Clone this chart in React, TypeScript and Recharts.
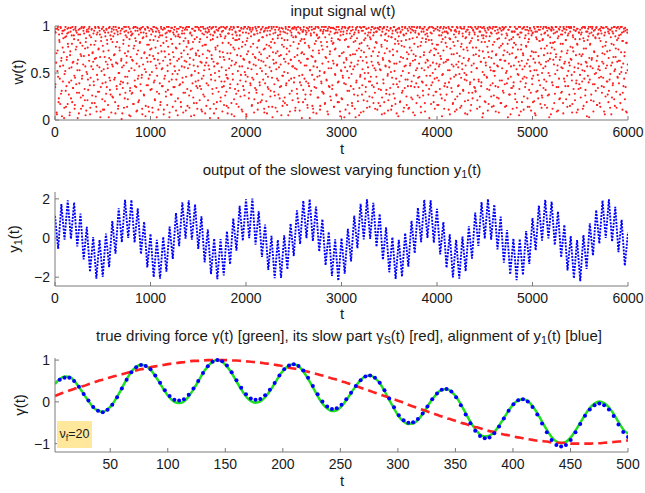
import React from 'react';
import { ScatterChart, Scatter, LineChart, Line, ComposedChart, XAxis, YAxis } from 'recharts';

const FONT = '"Liberation Sans", Arial, Helvetica, sans-serif';
const AXIS = '#7a7a7a';
const INK = '#1a1a1a';

// panel 1: input signal w(t); two interleaved sample runs (even / odd slots)
const wTicksX = [0, 1000, 2000, 3000, 4000, 5000, 6000];
const wTicksY = [0, 0.5, 1];
const wEven = [
  .94,.38,.97,.71,.06,.52,.99,.96,.23,.85,.44,.17,.98,.63,.31,.92,.77,.58,.95,.02,
  .49,.88,.99,.14,.36,.67,.97,.81,.93,.27,.55,.08,.73,.98,.42,.90,.19,.61,.34,.96,
  .86,.12,.45,.99,.95,.78,.29,.53,.64,.91,.07,.39,.97,.82,.24,.68,.99,.47,.15,.59,
  .98,.92,.33,.76,.05,.87,.51,.96,.21,.43,.94,.69,.99,.37,.13,.80,.57,.97,.26,.72,
  .62,.41,.95,.18,.99,.84,.66,.09,.48,.93,.30,.75,.98,.56,.91,.03,.35,.88,.97,.22,
  .79,.99,.54,.11,.67,.93,.40,.28,.96,.85,.59,.16,.74,.98,.45,.32,.90,.64,.08,.97,
  .25,.57,.89,.96,.43,.70,.19,.99,.61,.36,.83,.94,.12,.50,.98,.77,.27,.92,.41,.65,
  .97,.07,.34,.81,.58,.99,.23,.46,.90,.95,.68,.14,.39,.73,.99,.52,.86,.31,.04,.94,
  .55,.91,.29,.63,.98,.17,.79,.42,.87,.99,.35,.60,.10,.95,.74,.47,.21,.97,.83,.38,
  .93,.66,.48,.06,.99,.88,.27,.71,.54,.96,.15,.92,.37,.80,.62,.98,.44,.09,.69,.85,
  .32,.97,.76,.51,.13,.94,.99,.40,.65,.22,.89,.58,.98,.03,.47,.84,.71,.95,.28,.60,
  .90,.19,.99,.73,.36,.55,.96,.82,.11,.44,.97,.67,.30,.88,.93,.16,.52,.78,.99,.41,
  .08,.64,.95,.86,.27,.98,.49,.72,.35,.91,.57,.99,.20,.77,.43,.94,.63,.05,.89,.97,
  .53,.81,.38,.99,.14,.67,.92,.45,.98,.29,.74,.56,.96,.87,.10,.62,.99,.33,.70,.84,
  .99,.26,.59,.92,.75,.04,.48,.97,.39,.83,.64,.18,.95,.52,.99,.71,.36,.88,.12,.57,
  .42,.98,.68,.21,.86,.95,.33,.61,.09,.79,.99,.47,.91,.25,.58,.97,.80,.15,.66,.93,
  .74,.37,.96,.54,.99,.12,.85,.43,.69,.98,.28,.90,.62,.07,.94,.50,.77,.99,.34,.19,
  .88,.60,.02,.97,.46,.73,.91,.24,.99,.56,.35,.82,.95,.67,.16,.41,.98,.89,.53,.30,
  .99,.71,.44,.13,.92,.65,.97,.38,.80,.58,.06,.96,.49,.87,.99,.22,.75,.33,.94,.61,
  .17,.85,.99,.52,.31,.76,.95,.90,.42,.68,.98,.11,.57,.83,.36,.97,.64,.26,.99,.48,
  .93,.04,.70,.87,.55,.99,.23,.62,.96,.39,.78,.94,.15,.45,.98,.81,.59,.08,.91,.34,
  .66,.97,.29,.49,.92,.18,.84,.99,.72,.37,.55,.96,.63,.21,.88,.99,.43,.75,.12,.95,
  .39,.58,.98,.80,.07,.95,.46,.33,.99,.68,.91,.25,.77,.52,.97,.14,.86,.64,.99,.30,
  .82,.96,.13,.61,.99,.44,.73,.90,.27,.56,.98,.35,.94,.69,.05,.87,.47,.97,.20,.78,
  .51,.24,.93,.99,.37,.70,.16,.85,.96,.60,.42,.99,.09,.79,.64,.93,.31,.57,.98,.88,
  .97,.45,.67,.10,.89,.98,.54,.28,.76,.99,.19,.63,.92,.40,.84,.96,.71,.02,.48,.94,
  .32,.99,.86,.58,.22,.95,.41,.93,.65,.13,.97,.79,.36,.99,.53,.27,.90,.68,.96,.15,
  .74,.08,.97,.43,.81,.62,.99,.34,.91,.56,.24,.87,.98,.71,.47,.11,.95,.83,.39,.99,
  .60,.92,.29,.96,.50,.17,.88,.99,.66,.42,.78,.95,.06,.55,.99,.35,.73,.94,.21,.84,
  .98,.37,.63,.82,.14,.97,.75,.48,.93,.27,.99,.59,.19,.86,.41,.96,.68,.09,.90,.53,
  .23,.71,.99,.45,.94,.61,.03,.85,.98,.38,.66,.92,.52,.16,.97,.78,.31,.99,.57,.87,
  .95,.49,.18,.99,.70,.33,.91,.57,.12,.84,.96,.40,.74,.99,.26,.63,.93,.05,.81,.46,
  .67,.98,.82,.27,.54,.95,.09,.72,.99,.44,.87,.35,.97,.61,.20,.90,.50,.98,.76,.14,
  .41,.86,.96,.62,.37,.99,.73,.18,.93,.55,.29,.98,.83,.46,.94,.11,.68,.97,.33,.59,
  .99,.15,.53,.90,.78,.24,.97,.64,.39,.99,.07,.85,.58,.92,.32,.76,.99,.49,.21,.95,
  .56,.73,.34,.98,.11,.88,.45,.95,.69,.28,.99,.52,.81,.17,.96,.60,.38,.93,.84,.04,
  .89,.97,.62,.20,.94,.47,.79,.99,.31,.66,.91,.13,.57,.98,.43,.85,.25,.72,.97,.36,
  .12,.50,.99,.77,.60,.93,.24,.41,.96,.87,.08,.70,.99,.35,.64,.95,.53,.18,.88,.99,
  .78,.35,.91,.46,.98,.67,.14,.83,.55,.97,.40,.26,.94,.72,.99,.09,.61,.86,.47,.92,
  .96,.63,.27,.85,.02,.99,.58,.74,.37,.92,.81,.50,.98,.19,.69,.44,.97,.30,.75,.60,
  .45,.99,.80,.16,.57,.95,.33,.68,.99,.90,.23,.48,.86,.97,.61,.12,.94,.39,.82,.98,
  .27,.64,.93,.53,.99,.40,.87,.06,.76,.96,.34,.59,.99,.17,.83,.70,.46,.95,.22,.88,
  .94,.11,.71,.98,.36,.62,.92,.49,.28,.99,.78,.15,.97,.54,.89,.31,.66,.99,.43,.07,
  .58,.88,.42,.96,.74,.21,.99,.65,.93,.38,.10,.84,.51,.98,.29,.77,.95,.60,.35,.91,
  .99,.30,.77,.55,.12,.97,.85,.43,.68,.94,.25,.99,.62,.40,.90,.03,.73,.87,.99,.48,
  .20,.95,.61,.89,.46,.33,.98,.72,.17,.84,.99,.56,.37,.93,.66,.14,.97,.80,.52,.26,
  .83,.47,.99,.09,.70,.92,.58,.96,.35,.23,.87,.98,.64,.18,.79,.95,.42,.99,.31,.69,
  .97,.74,.38,.63,.99,.15,.52,.90,.81,.44,.96,.27,.70,.99,.06,.57,.86,.34,.94,.77,
  .36,.58,.94,.99,.22,.80,.67,.13,.97,.49,.91,.62,.05,.88,.99,.41,.75,.93,.19,.54,
  .71,.98,.25,.46,.87,.96,.39,.78,.60,.99,.14,.83,.95,.32,.57,.97,.68,.10,.90,.44,
  .92,.19,.65,.99,.53,.07,.94,.72,.30,.86,.99,.48,.23,.96,.61,.84,.37,.99,.76,.13,
  .50,.85,.97,.34,.69,.92,.16,.57,.99,.41,.79,.95,.26,.63,.98,.03,.47,.88,.71,.96,
  .99,.40,.12,.82,.96,.59,.75,.28,.93,.67,.99,.09,.53,.87,.35,.97,.22,.64,.99,.81,
  .29,.73,.91,.55,.18,.99,.44,.97,.62,.36,.85,.96,.71,.14,.90,.52,.99,.27,.58,.94,
  .65,.98,.48,.08,.77,.88,.33,.99,.56,.21,.95,.69,.42,.97,.80,.11,.60,.93,.38,.86,
  .96,.24,.59,.93,.41,.70,.99,.15,.84,.52,.98,.32,.76,.61,.04,.94,.47,.89,.99,.66,
  .43,.81,.99,.27,.64,.97,.55,.90,.20,.73,.38,.96,.87,.50,.99,.16,.68,.34,.92,.57,
  .87,.53,.14,.95,.99,.36,.62,.78,.45,.98,.09,.70,.93,.25,.83,.99,.58,.41,.97,.19,
  .31,.96,.74,.49,.88,.06,.98,.61,.37,.92,.80,.22,.99,.54,.67,.95,.13,.85,.46,.99,
  .75,.39,.97,.63,.18,.91,.51,.99,.84,.29,.60,.94,.44,.72,.98,.35,.09,.82,.96,.53,
];
const wOdd = [
  .35,.93,.61,.08,.97,.74,.46,.19,.91,.83,.57,.99,.28,.66,.04,.95,.41,.87,.72,.13,
  .96,.52,.31,.89,.64,.92,.17,.78,.98,.40,.05,.69,.94,.23,.56,.81,.99,.34,.62,.90,
  .47,.16,.97,.75,.38,.93,.60,.02,.85,.96,.29,.53,.91,.70,.12,.98,.44,.79,.26,.95,
  .68,.99,.21,.57,.83,.10,.94,.49,.77,.32,.97,.63,.90,.06,.45,.88,.96,.18,.71,.54,
  .92,.37,.80,.65,.98,.25,.14,.91,.58,.43,.99,.76,.30,.95,.67,.09,.84,.52,.97,.39,
  .11,.73,.95,.48,.20,.89,.62,.97,.35,.81,.55,.93,.03,.66,.99,.42,.27,.86,.94,.59,
  .83,.24,.99,.69,.92,.45,.07,.78,.96,.33,.60,.91,.15,.98,.50,.74,.38,.95,.63,.01,
  .56,.97,.40,.85,.13,.94,.71,.29,.99,.61,.88,.46,.22,.93,.79,.05,.97,.34,.67,.90,
  .28,.64,.92,.17,.76,.99,.53,.36,.95,.84,.09,.70,.98,.44,.19,.91,.57,.82,.96,.31,
  .98,.45,.12,.87,.59,.93,.26,.72,.97,.04,.51,.89,.66,.99,.37,.14,.80,.95,.48,.75,
  .62,.91,.33,.96,.08,.68,.85,.99,.42,.21,.77,.94,.55,.30,.97,.64,.11,.88,.93,.39,
  .16,.79,.97,.54,.90,.36,.63,.06,.98,.73,.47,.92,.25,.84,.99,.58,.32,.95,.70,.03,
  .94,.60,.27,.98,.43,.81,.14,.93,.67,.96,.35,.52,.89,.10,.76,.97,.49,.23,.91,.65,
  .37,.88,.99,.19,.71,.57,.95,.40,.08,.84,.92,.63,.29,.98,.46,.78,.96,.15,.55,.82,
  .99,.13,.66,.93,.31,.47,.90,.76,.97,.24,.58,.05,.86,.95,.41,.69,.18,.99,.34,.74,
  .50,.96,.83,.36,.62,.99,.11,.44,.92,.70,.27,.97,.53,.80,.07,.94,.61,.39,.88,.98,
  .21,.58,.94,.73,.02,.91,.48,.97,.65,.33,.86,.99,.17,.57,.93,.42,.75,.12,.96,.60,
  .79,.95,.30,.52,.98,.67,.20,.89,.41,.94,.09,.72,.99,.36,.64,.87,.26,.97,.48,.15,
  .45,.07,.92,.82,.55,.96,.34,.71,.99,.18,.63,.91,.43,.77,.98,.04,.59,.85,.93,.28,
  .90,.69,.38,.99,.14,.86,.57,.95,.25,.48,.97,.78,.09,.93,.65,.32,.99,.51,.80,.41,
  .06,.84,.97,.46,.73,.92,.29,.61,.98,.37,.89,.54,.16,.96,.70,.43,.91,.22,.67,.99,
  .58,.32,.95,.77,.11,.99,.64,.85,.40,.93,.19,.70,.97,.52,.27,.88,.62,.94,.08,.76,
  .97,.49,.20,.90,.66,.35,.98,.14,.79,.56,.95,.31,.83,.99,.45,.03,.72,.92,.60,.38,
  .26,.93,.71,.54,.99,.09,.87,.42,.96,.68,.23,.91,.59,.36,.98,.80,.15,.47,.94,.65,
  .85,.18,.62,.97,.39,.76,.92,.50,.05,.99,.73,.28,.95,.64,.44,.90,.97,.21,.57,.83,
  .40,.99,.55,.13,.88,.96,.33,.69,.23,.93,.81,.47,.10,.98,.61,.37,.86,.72,.94,.19,
  .96,.70,.44,.82,.27,.91,.58,.98,.16,.65,.39,.95,.77,.02,.53,.92,.31,.99,.48,.67,
  .12,.57,.93,.35,.97,.63,.84,.07,.90,.46,.99,.24,.74,.88,.52,.15,.96,.41,.79,.30,
  .75,.94,.28,.99,.51,.18,.67,.95,.43,.83,.09,.97,.62,.36,.91,.70,.25,.98,.55,.87,
  .33,.81,.98,.60,.14,.92,.49,.76,.96,.26,.58,.93,.40,.99,.19,.68,.85,.04,.94,.52,
  .97,.22,.47,.91,.72,.39,.99,.56,.11,.86,.64,.95,.31,.78,.98,.45,.07,.92,.69,.36,
  .61,.89,.15,.96,.54,.83,.27,.93,.70,.03,.98,.42,.87,.59,.20,.95,.76,.34,.99,.48,
  .08,.74,.95,.37,.63,.99,.21,.85,.50,.92,.30,.67,.97,.13,.79,.56,.93,.41,.25,.88,
  .93,.46,.68,.99,.24,.58,.90,.35,.97,.77,.12,.53,.94,.82,.39,.98,.61,.18,.72,.96,
  .54,.99,.32,.80,.06,.94,.66,.43,.98,.19,.71,.91,.57,.28,.96,.84,.47,.10,.89,.63,
  .27,.62,.97,.51,.88,.15,.92,.75,.38,.99,.60,.23,.86,.95,.44,.07,.73,.97,.35,.81,
  .98,.41,.19,.93,.67,.84,.29,.96,.52,.09,.90,.78,.34,.99,.58,.92,.16,.65,.43,.95,
  .70,.13,.86,.58,.97,.36,.74,.99,.22,.63,.95,.47,.81,.05,.93,.68,.39,.98,.55,.26,
  .45,.92,.60,.24,.99,.79,.08,.94,.41,.87,.31,.97,.69,.53,.18,.91,.83,.37,.96,.64,
  .89,.56,.98,.33,.72,.47,.93,.17,.85,.99,.40,.61,.26,.95,.76,.12,.54,.97,.30,.80,
  .16,.96,.71,.42,.90,.59,.98,.27,.65,.83,.04,.93,.49,.74,.99,.36,.21,.88,.62,.94,
  .78,.35,.92,.64,.11,.97,.53,.86,.44,.95,.70,.30,.99,.18,.57,.91,.79,.09,.96,.48,
  .59,.99,.25,.84,.56,.37,.94,.68,.13,.98,.45,.81,.60,.92,.32,.75,.97,.50,.20,.87,
  .94,.48,.77,.06,.96,.63,.29,.91,.82,.40,.99,.16,.58,.87,.23,.96,.69,.43,.93,.34,
  .31,.70,.97,.55,.21,.89,.99,.41,.74,.14,.94,.62,.36,.83,.98,.51,.07,.90,.66,.97,
  .83,.19,.58,.93,.45,.78,.10,.96,.67,.32,.89,.98,.53,.25,.92,.73,.39,.99,.15,.60,
  .52,.95,.36,.69,.99,.24,.86,.57,.93,.08,.77,.42,.97,.64,.18,.91,.55,.81,.96,.29,
  .98,.63,.14,.87,.50,.92,.39,.72,.03,.96,.60,.85,.27,.99,.46,.34,.94,.71,.12,.88,
  .40,.82,.94,.28,.66,.97,.54,.19,.91,.75,.48,.99,.33,.58,.93,.09,.80,.63,.97,.44,
  .69,.11,.99,.57,.35,.90,.79,.45,.96,.23,.64,.92,.86,.14,.98,.52,.29,.95,.73,.38,
  .93,.47,.72,.20,.97,.61,.05,.88,.53,.94,.31,.99,.68,.42,.84,.96,.17,.59,.91,.26,
  .24,.86,.55,.99,.43,.76,.93,.32,.62,.98,.13,.71,.90,.50,.27,.97,.65,.82,.06,.95,
  .77,.98,.37,.64,.92,.18,.83,.49,.99,.70,.35,.94,.58,.10,.89,.44,.96,.23,.67,.91,
  .56,.30,.95,.81,.07,.97,.60,.41,.93,.85,.22,.99,.47,.74,.36,.92,.61,.98,.15,.78,
  .99,.64,.42,.17,.90,.73,.96,.51,.28,.86,.95,.39,.08,.81,.97,.55,.33,.93,.70,.48,
  .34,.91,.68,.98,.53,.12,.87,.76,.44,.99,.26,.62,.94,.19,.57,.85,.97,.40,.03,.92,
  .80,.57,.21,.93,.66,.99,.38,.09,.95,.72,.49,.88,.31,.98,.63,.16,.91,.54,.96,.45,
  .18,.97,.84,.46,.92,.29,.71,.98,.60,.35,.90,.06,.79,.55,.99,.41,.73,.27,.94,.66,
  .92,.43,.13,.96,.58,.81,.24,.94,.39,.67,.99,.52,.15,.89,.76,.30,.98,.62,.45,.87,
  .63,.90,.49,.27,.99,.72,.56,.93,.11,.84,.36,.97,.68,.22,.95,.50,.82,.08,.93,.59,
];

// panel 2: y1(t), read at the turning points of the fast oscillation
const y1TicksY = [-2, 0, 2];
const y1Values = [
  1.13,-0.55,1.73,-0.08,1.92,-0.04,1.81,-0.43,1.25,-1.09,
  0.57,-1.73,0.05,-2.08,-0.09,-1.98,0.23,-1.49,0.86,-0.80,
  1.52,-0.22,1.95,0.00,1.94,-0.23,1.51,-0.82,0.83,-1.50,
  0.21,-2.00,-0.09,-2.08,0.06,-1.72,0.58,-1.07,1.28,-0.42,
  1.82,-0.03,1.93,-0.09,1.72,-0.56,1.11,-1.24,0.44,-1.84,
  -0.03,-2.10,-0.06,-1.91,0.34,-1.34,1.00,-0.65,1.64,-0.14,
  1.98,-0.01,2.02,-0.34,1.37,-0.97,0.69,-1.63,0.11,-2.05,
  -0.10,-2.04,0.14,-1.60,0.73,-0.92,1.41,-0.30,1.90,-0.01,
  1.98,-0.16,1.61,-0.69,0.96,-1.39,0.31,-1.93,-0.07,-2.18,
  -0.01,-1.82,0.47,-1.20,1.15,-0.52,1.75,-0.07,1.97,-0.04,
  1.80,-0.45,1.23,-1.11,0.54,-1.75,0.04,-2.09,-0.09,-1.97,
  0.25,-1.46,0.88,-0.78,1.54,-0.21,1.95,0.00,1.93,-0.24,
  1.49,-0.84,0.81,-1.52,0.19,-2.01,-0.09,-2.07,0.07,-1.70,
  0.60,-1.05,1.30,-0.40,1.83,-0.03,1.99,-0.09,1.71,-0.58,
  1.09,-1.26,0.41,-1.86,-0.03,-2.15,-0.05,-1.89,0.36,-1.32,
  1.02,-0.63,1.66,-0.13,1.95,-0.02,1.86,-0.36,1.35,-0.99,
  0.67,-1.65,0.10,-2.06,-0.10,-2.20,0.15,-1.58,0.75,-0.89,
  1.43,-0.28,1.91,0.00,1.97,-0.18,1.59,-0.72,0.93,-1.41,
  0.29,
];

// panel 3: driving force, its slow part, and the aligned output
const gTicksX = [50, 100, 150, 200, 250, 300, 350, 400, 450, 500];
const gTicksY = [-1, 0, 1];
const gStart = 2;
const gStep = 4.15;
const gammaValues = [
  0.43,0.55,0.61,0.60,0.51,0.36,0.19,0.02,-0.13,-0.21,
  -0.24,-0.18,-0.06,0.12,0.33,0.54,0.72,0.84,0.89,0.86,
  0.77,0.62,0.44,0.25,0.10,0.00,-0.03,0.01,0.13,0.30,
  0.49,0.69,0.85,0.96,1.00,0.96,0.85,0.69,0.49,0.30,
  0.13,0.02,-0.02,0.01,0.11,0.26,0.44,0.63,0.78,0.87,
  0.90,0.85,0.73,0.55,0.35,0.14,-0.04,-0.16,-0.22,-0.20,
  -0.11,0.04,0.21,0.38,0.52,0.61,0.63,0.57,0.45,0.26,
  0.05,-0.16,-0.35,-0.47,-0.53,-0.52,-0.43,-0.29,-0.11,0.06,
  0.20,0.29,0.31,0.25,0.12,-0.06,-0.27,-0.48,-0.65,-0.78,
  -0.83,-0.81,-0.72,-0.57,-0.39,-0.21,-0.06,0.04,0.06,0.02,
  -0.10,-0.27,-0.47,-0.67,-0.84,-0.95,-0.99,-0.96,-0.85,-0.69,
  -0.50,-0.31,-0.15,-0.04,0.01,-0.03,-0.13,-0.29,-0.48,-0.66,
  -0.76,
];
const slowValues = [
  0.14,0.19,0.23,0.27,0.31,0.35,0.38,0.42,0.46,0.50,
  0.53,0.57,0.60,0.63,0.66,0.69,0.72,0.75,0.78,0.80,
  0.83,0.85,0.87,0.89,0.91,0.92,0.94,0.95,0.97,0.98,
  0.98,0.99,1.00,1.00,1.00,1.00,1.00,0.99,0.99,0.98,
  0.97,0.96,0.95,0.94,0.92,0.91,0.89,0.87,0.85,0.82,
  0.80,0.78,0.75,0.72,0.69,0.66,0.63,0.60,0.56,0.53,
  0.49,0.46,0.42,0.38,0.34,0.30,0.26,0.22,0.18,0.14,
  0.10,0.06,0.02,-0.02,-0.07,-0.11,-0.15,-0.19,-0.23,-0.27,
  -0.31,-0.35,-0.39,-0.42,-0.46,-0.50,-0.53,-0.57,-0.60,-0.63,
  -0.67,-0.70,-0.72,-0.75,-0.78,-0.80,-0.83,-0.85,-0.87,-0.89,
  -0.91,-0.93,-0.94,-0.95,-0.97,-0.98,-0.98,-0.99,-1.00,-1.00,
  -1.00,-1.00,-1.00,-0.99,-0.99,-0.98,-0.97,-0.96,-0.95,-0.94,
  -0.92,
];
const alignValues = [
  null,0.53,0.58,0.58,0.50,0.36,0.19,0.03,-0.12,-0.21,
  -0.25,-0.19,-0.07,0.11,0.32,0.53,0.71,0.83,0.88,0.86,
  0.78,0.63,0.46,0.28,0.14,0.05,0.03,0.06,0.17,0.32,
  0.50,0.69,0.85,0.96,1.00,0.97,0.87,0.71,0.52,0.34,
  0.18,0.08,0.05,0.07,0.16,0.29,0.45,0.63,0.78,0.87,
  0.90,0.86,0.75,0.58,0.38,0.18,0.01,-0.11,-0.17,-0.15,
  -0.07,0.06,0.22,0.38,0.52,0.61,0.63,0.58,0.46,0.28,
  0.08,-0.13,-0.32,-0.44,-0.50,-0.49,-0.41,-0.28,-0.11,0.06,
  0.20,0.29,0.31,0.25,0.11,-0.08,-0.30,-0.51,-0.69,-0.82,
  -0.87,-0.85,-0.75,-0.59,-0.40,-0.21,-0.06,0.04,0.06,0.01,
  -0.12,-0.30,-0.52,-0.73,-0.91,-1.03,-1.07,-1.03,-0.91,-0.73,
  -0.53,-0.33,-0.18,-0.08,-0.04,-0.08,-0.18,-0.34,-0.54,-0.72,
  -0.84,
];

const wSlot = 6000 / (wEven.length + wOdd.length);
const wData = [
  ...wEven.map((w, i) => ({ t: 2 * i * wSlot, w })),
  ...wOdd.map((w, i) => ({ t: (2 * i + 1) * wSlot, w })),
];
const y1Data = y1Values.map((y, i) => ({ t: (i * 6000) / (y1Values.length - 1), y }));
const gData = gammaValues.map((g, i) => ({
  t: gStart + i * gStep,
  gamma: g,
  slow: slowValues[i],
  align: alignValues[i],
}));

const tickStyle = { fill: INK, fontSize: 14, fontFamily: FONT };
const minus = (v: number) => String(v).replace('-', '\u2212');

// box with inward ticks on all four sides, matlab style
const frame = (xDomain: number[], xTicks: number[], yDomain: number[], yTicks: number[], yKey?: string) => [
  <XAxis key="xb" xAxisId="b" type="number" dataKey="t" domain={xDomain} ticks={xTicks} interval={0}
    allowDataOverflow height={40} stroke={AXIS} tickSize={-4} tickMargin={11} tick={tickStyle} />,
  <XAxis key="xt" xAxisId="t" type="number" dataKey="t" orientation="top" domain={xDomain} ticks={xTicks}
    interval={0} allowDataOverflow height={0} stroke={AXIS} tickSize={-4} tickFormatter={() => ''} />,
  <YAxis key="yl" yAxisId="l" type="number" dataKey={yKey} domain={yDomain} ticks={yTicks} interval={0}
    allowDataOverflow width={55} stroke={AXIS} tickSize={-4} tickMargin={9} tick={tickStyle} tickFormatter={minus} />,
  <YAxis key="yr" yAxisId="r" type="number" dataKey={yKey} orientation="right" domain={yDomain} ticks={yTicks}
    interval={0} allowDataOverflow width={0} stroke={AXIS} tickSize={-4} tickFormatter={() => ''} />,
];

const chartMargin = { top: 26, right: 17, bottom: 0, left: 0 };

const txt = (x: number, y: number, content: React.ReactNode, size = 15, rotate = false) => (
  <div style={{
    position: 'absolute', left: x, top: y, whiteSpace: 'nowrap', fontFamily: FONT, fontSize: size, color: INK,
    lineHeight: 1, transform: `translate(-50%, -50%)${rotate ? ' rotate(-90deg)' : ''}`,
  }}>{content}</div>
);
const sub = (s: string) => <sub style={{ fontSize: '0.72em', verticalAlign: '-0.3em' }}>{s}</sub>;

export default function App() {
  return (
    <div style={{ position: 'absolute', left: 0, top: 0, width: 645, height: 493, background: '#fff', overflow: 'hidden' }}>
      <div style={{ position: 'absolute', left: 0, top: 0 }}>
        <ScatterChart width={645} height={160} margin={chartMargin}>
          {frame([0, 6000], wTicksX, [0, 1], wTicksY, 'w')}
          <Scatter data={wData} dataKey="w" xAxisId="b" yAxisId="l" isAnimationActive={false}
            shape={(p: any) => <circle cx={p.cx} cy={p.cy} r={1.05} fill="#ff1f1f" />} />
        </ScatterChart>
      </div>
      <div style={{ position: 'absolute', left: 0, top: 166 }}>
        <LineChart width={645} height={160} margin={chartMargin} data={y1Data}>
          {frame([0, 6000], wTicksX, [-2.45, 2.35], y1TicksY)}
          <Line dataKey="y" xAxisId="b" yAxisId="l" type="linear" stroke="#0000ff" strokeWidth={1.9}
            strokeDasharray="2 1.3" dot={false} isAnimationActive={false} />
        </LineChart>
      </div>
      <div style={{ position: 'absolute', left: 0, top: 332 }}>
        <ComposedChart width={645} height={160} margin={chartMargin} data={gData}>
          {frame([2, 500], gTicksX, [-1.2, 1.05], gTicksY)}
          <Line dataKey="gamma" xAxisId="b" yAxisId="l" type="monotone" stroke="#1fe01f" strokeWidth={2.5}
            dot={false} isAnimationActive={false} />
          <Line dataKey="slow" xAxisId="b" yAxisId="l" type="monotone" stroke="#ff2020" strokeWidth={2.6}
            strokeDasharray="9 5" dot={false} isAnimationActive={false} />
          <Line dataKey="align" xAxisId="b" yAxisId="l" type="linear" stroke="none" connectNulls={false}
            dot={{ r: 2, fill: '#0000ff', stroke: 'none' }} isAnimationActive={false} />
        </ComposedChart>
      </div>

      {txt(343, 10, 'input signal w(t)')}
      {txt(342, 148, 't')}
      {txt(17, 72, 'w(t)', 15, true)}

      {txt(342, 171, <>output of the slowest varying function y{sub('1')}(t)</>)}
      {txt(342, 313, 't')}
      {txt(15, 239, <>y{sub('1')}(t)</>, 15, true)}

      {txt(349, 337, <>true driving force γ(t) [green], its slow part γ{sub('S')}(t) [red], alignment of y{sub('1')}(t) [blue]</>)}
      {txt(342, 480, 't')}
      {txt(19, 405, 'γ(t)', 15, true)}

      <div style={{
        position: 'absolute', left: 57, top: 421, width: 35, height: 27, background: '#ffe79c',
        fontFamily: FONT, fontSize: 12.5, color: INK, lineHeight: '27px', textAlign: 'center',
      }}>ν{sub('f')}=20</div>
    </div>
  );
}
